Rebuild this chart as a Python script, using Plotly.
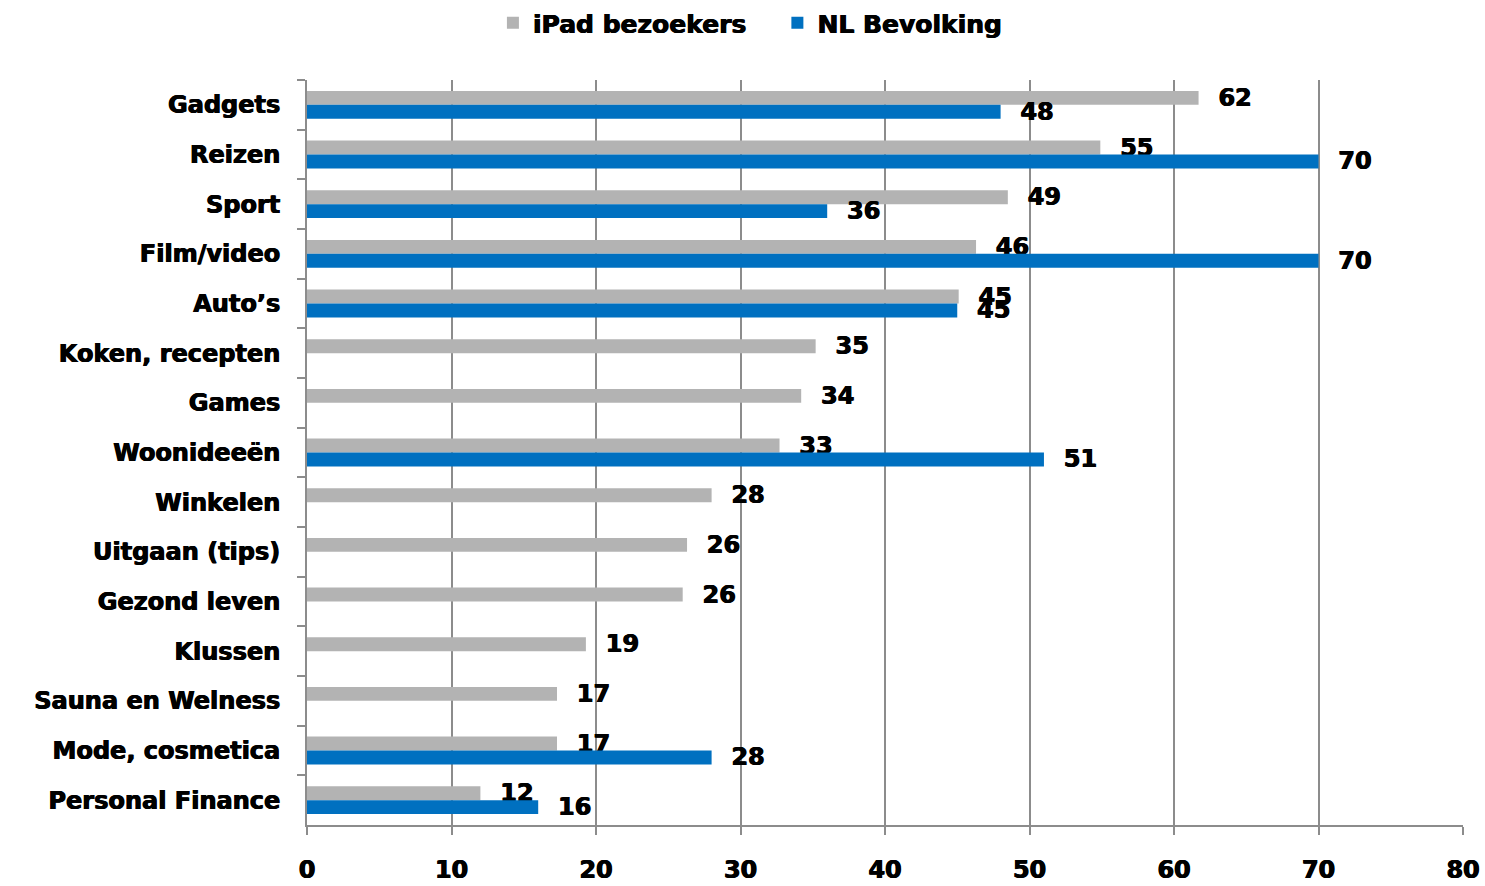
import plotly.graph_objects as go

categories = ["Gadgets", "Reizen", "Sport", "Film/video", "Auto’s", "Koken, recepten",
              "Games", "Woonideeën", "Winkelen", "Uitgaan (tips)", "Gezond leven",
              "Klussen", "Sauna en Welness", "Mode, cosmetica", "Personal Finance"]
ipad = [61.7, 54.9, 48.5, 46.3, 45.1, 35.2, 34.2, 32.7, 28.0, 26.3, 26.0, 19.3, 17.3, 17.3, 12.0]
nl = [48, 70, 36, 70, 45, None, None, 51, None, None, None, None, None, 28, 16]
series_names = ["iPad bezoekers", "NL Bevolking"]
x_ticks = [0, 10, 20, 30, 40, 50, 60, 70, 80]

FONT = "DejaVu Sans"
SHADOW = "0.6px 0 0 black, -0.4px 0 0 black"
GRAY = "#b3b3b3"
BLUE = "#0070c0"
AX = "#8c8c8c"

def f(size):
    return dict(family=FONT, size=size, color="black", weight="bold", shadow=SHADOW)

fig = go.Figure()
for name, vals, col in [(series_names[0] + "\u00a0\u00a0\u00a0", ipad, GRAY), (series_names[1], nl, BLUE)]:
    fig.add_trace(go.Bar(
        y=categories, x=vals, name=name, orientation="h",
        marker=dict(color=col, line=dict(width=0)),
        texttemplate="\u00a0\u00a0%{x:.0f}", textposition="outside",
        constraintext="none", cliponaxis=False,
        textfont=f(24),
    ))

fig.update_layout(
    width=1485, height=886,
    margin=dict(l=307, r=22, t=80, b=61, autoexpand=False),
    paper_bgcolor="white", plot_bgcolor="white",
    barmode="group", bargap=0.44, bargroupgap=0,
    font=f(24),
    legend=dict(orientation="h", x=0.505, xanchor="center", xref="container",
                y=1.0, yanchor="top", yref="container", font=f(25),
                itemwidth=30, traceorder="normal"),
    showlegend=True,
)
fig.update_xaxes(range=[0, 80], tickvals=x_ticks, showgrid=True, gridcolor=AX, gridwidth=2,
                 showline=True, linecolor=AX, linewidth=2, ticks="outside", ticklen=8,
                 tickcolor=AX, tickwidth=2, zeroline=False, ticklabelstandoff=14,
                 tickfont=f(24), automargin=False)
fig.update_yaxes(autorange="reversed", showline=True, linecolor=AX, linewidth=2,
                 ticks="outside", ticklen=8, tickcolor=AX, tickwidth=2,
                 tickson="boundaries", showgrid=False, ticklabelstandoff=20,
                 tickfont=f(24), automargin=False)
fig.write_html("out.html", config={"displayModeBar": False},
               post_script="document.body.style.margin='0px';")
